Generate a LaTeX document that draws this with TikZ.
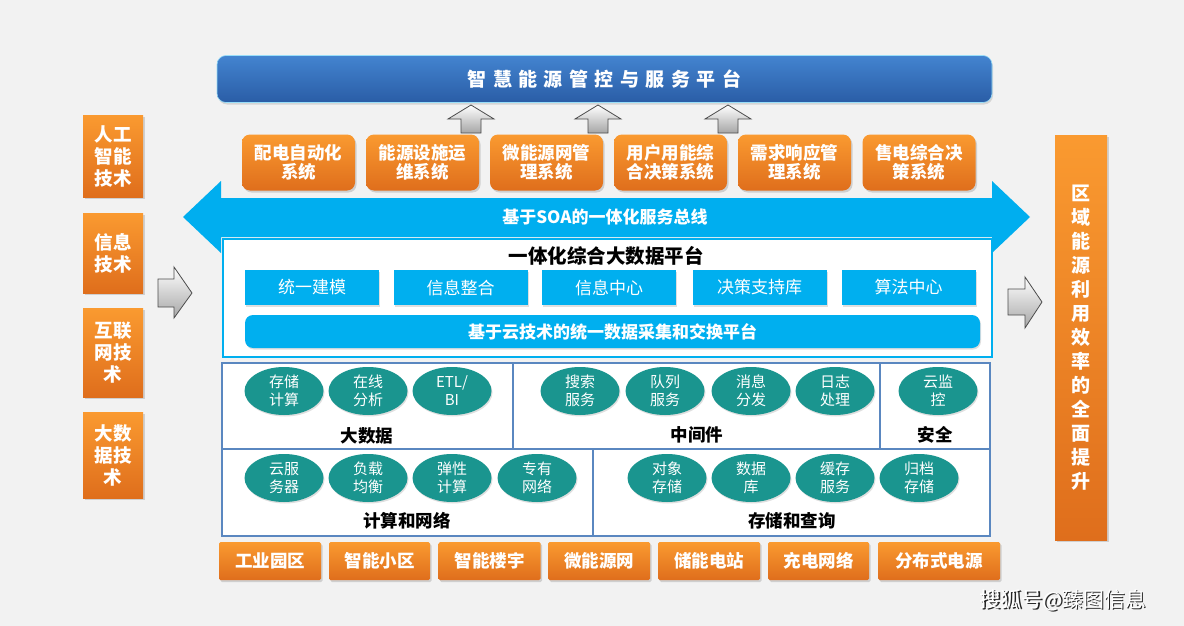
\documentclass[tikz,border=0pt]{standalone}
\usepackage{fontspec}
\setmainfont{Noto Sans CJK SC}
\usetikzlibrary{shadows,shapes.geometric}
\definecolor{bg}{HTML}{F2F2F2}
\definecolor{orT}{HTML}{FA9A30}
\definecolor{orB}{HTML}{DF6E1C}
\definecolor{titleT}{HTML}{4384D0}
\definecolor{titleB}{HTML}{2A5DA6}
\definecolor{busblue}{HTML}{00AEEF}
\definecolor{platblue}{HTML}{00AFEF}
\definecolor{tealc}{HTML}{1A958F}
\definecolor{gridc}{HTML}{5A87C0}
\newcommand\tsp{\hspace{6.5pt}}
\tikzset{
  orbox/.style={top color=orT, bottom color=orB, draw=none, text=white, align=center, inner sep=0pt,
    drop shadow={shadow xshift=1.5pt, shadow yshift=-2pt, opacity=0.3}},
  sysbox/.style={orbox, rounded corners=8pt, minimum width=113pt, minimum height=56pt,
    font=\bfseries\fontsize{17.5}{18.5}\selectfont},
  techbox/.style={orbox, minimum width=60pt, font=\bfseries\fontsize{18.5}{22}\selectfont},
  sitebox/.style={orbox, rounded corners=1.5pt, minimum height=38pt, font=\bfseries\fontsize{17.5}{20}\selectfont},
  platbox/.style={fill=platblue, text=white, inner sep=0pt, minimum width=134pt, minimum height=35pt,
    font=\fontsize{17}{20}\selectfont, drop shadow={shadow xshift=1pt, shadow yshift=-1.5pt, opacity=0.25}},
  svc/.style={ellipse, fill=tealc, text=white, inner sep=0pt, minimum width=79pt, minimum height=48pt,
    align=center, font=\fontsize{15}{18}\selectfont,
    drop shadow={shadow xshift=1pt, shadow yshift=-1.5pt, opacity=0.25}},
  cell/.style={draw=gridc, line width=1.3pt, fill=white},
  celllabel/.style={font=\bfseries\fontsize{17.5}{20}\selectfont, text=black},
  grayarrow/.style={draw=black!70, line width=0.8pt, top color=white, bottom color=black!35},
}
\begin{document}
\begin{tikzpicture}[x=1pt,y=-1pt]
\fill[bg] (0,0) rectangle (1184,626);
\useasboundingbox (0,0) rectangle (1184,626);

% title bar
\node[rounded corners=9pt, top color=titleT, bottom color=titleB, draw=cyan!40!white, line width=0.6pt,
  minimum width=775pt, minimum height=47pt, inner sep=0pt, text=white,
  font=\bfseries\fontsize{19}{22}\selectfont,
  drop shadow={shadow xshift=1pt, shadow yshift=-2pt, opacity=0.25}] (title) at (604.5,79)
  {智\tsp{}慧\tsp{}能\tsp{}源\tsp{}管\tsp{}控\tsp{}与\tsp{}服\tsp{}务\tsp{}平\tsp{}台};

% up arrows
\foreach \cx/\nm in {471/upa,598/upb,728/upc}{
  \draw[grayarrow] (\cx-23,119) -- (\cx,105) -- (\cx+23,119) -- (\cx+10,119) -- (\cx+10,133)
    -- (\cx-10,133) -- (\cx-10,119) -- cycle;
}

% system boxes
\node[sysbox] (s1) at (298.5,162.5) {配电自动化\\系统};
\node[sysbox] (s2) at (422.5,162.5) {能源设施运\\维系统};
\node[sysbox] (s3) at (546.5,162.5) {微能源网管\\理系统};
\node[sysbox] (s4) at (670.5,162.5) {用户用能综\\合决策系统};
\node[sysbox] (s5) at (794.5,162.5) {需求响应管\\理系统};
\node[sysbox] (s6) at (919,162.5) {售电综合决\\策系统};

% SOA bus
\fill[busblue] (183,217) -- (221,181) -- (221,198) -- (992,198) -- (992,181) -- (1030,217)
  -- (992,253) -- (992,237) -- (221,237) -- (221,253) -- cycle;
\node[text=white, font=\bfseries\fontsize{17}{20}\selectfont] (bus) at (605,217) {基于SOA的一体化服务总线};

% platform
\node[draw=platblue, line width=2pt, fill=white, minimum width=769pt, minimum height=118pt, inner sep=0pt] (plat) at (607,297.5) {};
\node[font=\bfseries\fontsize{19.5}{22}\selectfont] (plattitle) at (606,256) {一体化综合大数据平台};
\node[platbox] (p1) at (312,287.5) {统一建模};
\node[platbox] (p2) at (460.5,287.5) {信息整合};
\node[platbox] (p3) at (609,287.5) {信息中心};
\node[platbox] (p4) at (759.5,287.5) {决策支持库};
\node[platbox] (p5) at (908.5,287.5) {算法中心};
\node[fill=platblue, rounded corners=8pt, minimum width=735pt, minimum height=33pt, inner sep=0pt,
  text=white, font=\bfseries\fontsize{17}{20}\selectfont,
  drop shadow={shadow xshift=1pt, shadow yshift=-1.5pt, opacity=0.25}] (cloud) at (612.5,331.5)
  {基于云技术的统一数据采集和交换平台};

% lower grid
\draw[cell] (222,363) rectangle (513,449);
\draw[cell] (513,363) rectangle (880,449);
\draw[cell] (880,363) rectangle (990,449);
\draw[cell] (222,449) rectangle (593,536);
\draw[cell] (593,449) rectangle (990,536);

\node[svc] (e1) at (284,391) {存储\\计算};
\node[svc] (e2) at (368,391) {在线\\分析};
\node[svc] (e3) at (452,391) {ETL/\\BI};
\node[svc] (e4) at (580,391) {搜索\\服务};
\node[svc] (e5) at (665,391) {队列\\服务};
\node[svc] (e6) at (751,391) {消息\\分发};
\node[svc] (e7) at (835,391) {日志\\处理};
\node[svc] (e8) at (938,391) {云监\\控};
\node[svc] (f1) at (284,478) {云服\\务器};
\node[svc] (f2) at (368,478) {负载\\均衡};
\node[svc] (f3) at (452,478) {弹性\\计算};
\node[svc] (f4) at (537,478) {专有\\网络};
\node[svc] (f5) at (667,478) {对象\\存储};
\node[svc] (f6) at (751,478) {数据\\库};
\node[svc] (f7) at (835,478) {缓存\\服务};
\node[svc] (f8) at (919,478) {归档\\存储};

\node[celllabel] (l1) at (367,436) {大数据};
\node[celllabel] (l2) at (697,435) {中间件};
\node[celllabel] (l3) at (935,435) {安全};
\node[celllabel] (l4) at (407,521) {计算和网络};
\node[celllabel] (l5) at (792,521) {存储和查询};

% bottom sites
\node[sitebox, minimum width=102pt] (b1) at (270,561) {工业园区};
\node[sitebox, minimum width=101pt] (b2) at (379.5,561) {智能小区};
\node[sitebox, minimum width=102pt] (b3) at (489.5,561) {智能楼宇};
\node[sitebox, minimum width=102pt] (b4) at (599,561) {微能源网};
\node[sitebox, minimum width=102pt] (b5) at (709,561) {储能电站};
\node[sitebox, minimum width=101pt] (b6) at (818.5,561) {充电网络};
\node[sitebox, minimum width=122pt] (b7) at (939,561) {分布式电源};

% left tech column
\node[techbox, minimum height=82pt] (t1) at (113,156) {人工\\智能\\技术};
\node[techbox, minimum height=80pt] (t2) at (113,253) {信息\\技术};
\node[techbox, minimum height=89pt] (t3) at (113,352.5) {互联\\网技\\术};
\node[techbox, minimum height=86pt] (t4) at (113,455) {大数\\据技\\术};

% side arrows
\draw[grayarrow] (158,279) -- (174,279) -- (174,267) -- (192,293) -- (174,318) -- (174,307) -- (158,307) -- cycle;
\draw[grayarrow] (1008,289) -- (1025,289) -- (1025,277) -- (1042,302) -- (1025,328) -- (1025,315) -- (1008,315) -- cycle;

% right result column
\node[orbox, minimum width=52pt, minimum height=405pt, font=\bfseries\fontsize{19}{24}\selectfont] (res) at (1081,337.5)
  {区\\域\\能\\源\\利\\用\\效\\率\\的\\全\\面\\提\\升};

% watermark
\node[text=black!85, font=\fontsize{21}{24}\selectfont] (wms) at (1064.5,601.5) {搜狐号@臻图信息};
\node[text=white, font=\fontsize{21}{24}\selectfont] (wm) at (1063,600) {搜狐号@臻图信息};
\end{tikzpicture}
\end{document}
